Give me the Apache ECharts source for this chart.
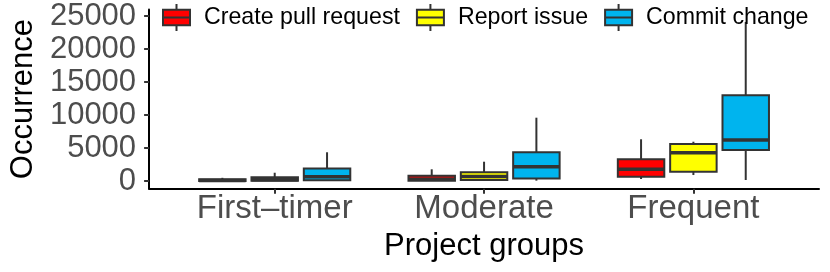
<!DOCTYPE html>
<html>
<head>
<meta charset="utf-8">
<script src="https://cdn.jsdelivr.net/npm/echarts@6/dist/echarts.min.js"></script>
<style>
html,body{margin:0;padding:0;background:#fff;}
#chart{width:830px;height:272px;}
</style>
</head>
<body>
<div id="chart"></div>
<script>
// Categories (x axis)
const categories = ['First–timer', 'Moderate', 'Frequent'];
// Series names
const seriesNames = ['Create pull request', 'Report issue', 'Commit change'];
// Box stats per category: [min, Q1, median, Q3, max]
const createPullRequest = [
  [0, 10, 80, 280, 480],
  [0, 40, 280, 790, 1770],
  [300, 650, 1770, 3290, 6320]
];
const reportIssue = [
  [0, 40, 180, 560, 1250],
  [0, 150, 680, 1320, 2920],
  [900, 1410, 4290, 5600, 5950]
];
const commitChange = [
  [0, 100, 650, 1900, 4350],
  [50, 380, 2170, 4350, 9590],
  [150, 4700, 6210, 12980, 24100]
];
// Y tick labels
const yTicks = [0, 5000, 10000, 15000, 20000, 25000];

const seriesData = [createPullRequest, reportIssue, commitChange];
const colors = ['#FF0000', '#FFFF00', '#00B4EE'];
const OFFSETS = [-0.25, 0, 0.25];
const BOX_W = 0.222;
const STROKE = '#333333';
const FONT = 'Liberation Sans, Arial, sans-serif';

function makeRender(k) {
  return function (params, api) {
    const x = api.value(0) + OFFSETS[k];
    const lo = api.coord([x, api.value(1)]);
    const q1 = api.coord([x, api.value(2)]);
    const md = api.coord([x, api.value(3)]);
    const q3 = api.coord([x, api.value(4)]);
    const hi = api.coord([x, api.value(5)]);
    const xl = api.coord([x - BOX_W / 2, 0])[0];
    const xr = api.coord([x + BOX_W / 2, 0])[0];
    const cx = lo[0];
    return {
      type: 'group',
      children: [
        { type: 'line', shape: { x1: cx, y1: hi[1], x2: cx, y2: q3[1] }, style: { stroke: STROKE, lineWidth: 2 } },
        { type: 'line', shape: { x1: cx, y1: q1[1], x2: cx, y2: lo[1] }, style: { stroke: STROKE, lineWidth: 2 } },
        { type: 'rect', shape: { x: xl, y: q3[1], width: xr - xl, height: q1[1] - q3[1] },
          style: { fill: colors[k], stroke: STROKE, lineWidth: 2 } },
        { type: 'line', shape: { x1: xl, y1: md[1], x2: xr, y2: md[1] }, style: { stroke: STROKE, lineWidth: 3.5 } }
      ]
    };
  };
}

const series = seriesNames.map(function (name, k) {
  return {
    type: 'custom',
    name: name,
    color: colors[k],
    renderItem: makeRender(k),
    encode: { x: 0, y: [1, 2, 3, 4, 5] },
    data: seriesData[k].map(function (v, i) { return [i + 1].concat(v); }),
    clip: false,
    silent: true
  };
});

const ICON = 'path://M0,6 L28,6 L28,22 L0,22 Z M0,14 L28,14 M14,0 L14,6 M14,22 L14,28';

const chart = echarts.init(document.getElementById('chart'), null, { renderer: 'canvas' });
chart.setOption({
  animation: false,
  backgroundColor: '#ffffff',
  grid: { left: 147, right: 11, top: 9.4, bottom: 83.3 },
  legend: {
    left: 157,
    top: -2,
    itemWidth: 27,
    itemHeight: 28,
    itemGap: 16,
    icon: ICON,
    itemStyle: { borderColor: STROKE, borderWidth: 2 },
    textStyle: { fontFamily: FONT, fontSize: 23.2, color: '#000', padding: [0, 0, 0, 9] },
    data: seriesNames
  },
  xAxis: {
    type: 'value',
    min: 0.4,
    max: 3.6,
    name: 'Project groups',
    nameLocation: 'middle',
    nameGap: 37,
    nameTextStyle: { fontFamily: FONT, fontSize: 31, color: '#000' },
    axisLine: { show: true, onZero: false, lineStyle: { color: '#000', width: 2 } },
    axisTick: { show: true, customValues: [1, 2, 3], length: 5, lineStyle: { color: '#333', width: 2 } },
    axisLabel: {
      customValues: [1, 2, 3],
      formatter: function (v) { return categories[Math.round(v) - 1] || ''; },
      fontFamily: FONT, fontSize: 33, color: '#4D4D4D', margin: 4
    },
    splitLine: { show: false }
  },
  yAxis: {
    type: 'value',
    min: -1170,
    max: 26000,
    name: 'Occurrence',
    nameLocation: 'middle',
    nameGap: 106,
    nameTextStyle: { fontFamily: FONT, fontSize: 31, color: '#000' },
    axisLine: { show: true, onZero: false, lineStyle: { color: '#000', width: 2 } },
    axisTick: { show: true, customValues: yTicks, length: 5, lineStyle: { color: '#333', width: 2 } },
    axisLabel: {
      customValues: yTicks,
      formatter: function (v) { return String(v); },
      fontFamily: FONT, fontSize: 31, color: '#4D4D4D', margin: 13
    },
    splitLine: { show: false }
  },
  series: series
});
</script>
</body>
</html>
